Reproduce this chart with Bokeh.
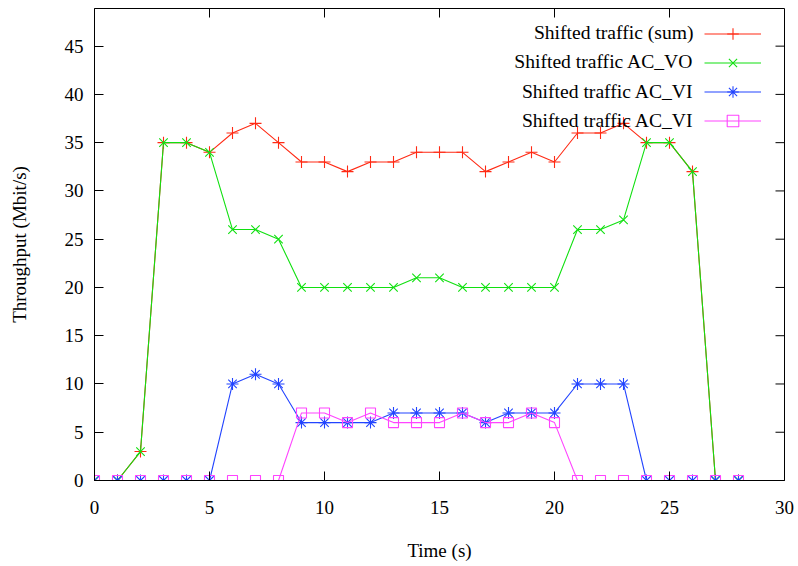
import math
from bokeh.plotting import figure
from bokeh.models import Range1d, FixedTicker, Legend, LegendItem, Label
from bokeh.embed import file_html
from bokeh.resources import INLINE

# ---- data ----
time_s = list(range(29))
sum_traffic = [0, 0, 3, 35, 35, 34, 36, 37, 35, 33, 33, 32, 33, 33, 34, 34, 34, 32, 33, 34, 33, 36, 36, 37, 35, 35, 32, 0, 0]
ac_vo = [0, 0, 3, 35, 35, 34, 26, 26, 25, 20, 20, 20, 20, 20, 21, 21, 20, 20, 20, 20, 20, 26, 26, 27, 35, 35, 32, 0, 0]
ac_vi = [0, 0, 0, 0, 0, 0, 10, 11, 10, 6, 6, 6, 6, 7, 7, 7, 7, 6, 7, 7, 7, 10, 10, 10, 0, 0, 0, 0, 0]
ac_vi_2 = [0, 0, 0, 0, 0, 0, 0, 0, 0, 7, 7, 6, 7, 6, 6, 6, 7, 6, 6, 7, 6, 0, 0, 0, 0, 0, 0, 0, 0]

series_labels = ["Shifted traffic (sum)", "Shifted traffic AC_VO", "Shifted traffic AC_VI", "Shifted traffic AC_VI"]
series_values = [sum_traffic, ac_vo, ac_vi, ac_vi_2]
series_colors = ["#ff2a14", "#10e010", "#2244ff", "#ff44ff"]
series_markers = ["cross", "x", "asterisk", "square"]
series_sizes = [12, 12, 12, 10]

x_ticks = [0, 5, 10, 15, 20, 25, 30]
y_ticks = [0, 5, 10, 15, 20, 25, 30, 35, 40, 45]
x_min, x_max = 0, 30
y_min, y_max = 0, 48.9

FONT = "Liberation Serif"
FS = "19px"
LEG_FS = "19.6px"

p = figure(width=798, height=566, output_backend="svg", toolbar_location=None,
           x_range=Range1d(x_min, x_max), y_range=Range1d(y_min, y_max),
           min_border_left=94, min_border_right=14, min_border_top=8, min_border_bottom=86)
p.grid.visible = False
p.outline_line_color = "black"
p.outline_line_width = 1
p.background_fill_color = "white"
p.border_fill_color = "white"

for ax, ticks in ((p.xaxis[0], x_ticks), (p.yaxis[0], y_ticks)):
    ax.ticker = FixedTicker(ticks=ticks)
    ax.major_tick_in = 9
    ax.major_tick_out = 0
    ax.minor_tick_line_color = None
    ax.major_tick_line_color = "black"
    ax.axis_line_color = "black"
    ax.major_label_text_font = FONT
    ax.major_label_text_font_size = FS
    ax.major_label_text_color = "black"
    ax.axis_label_text_font = FONT
    ax.axis_label_text_font_size = FS
    ax.axis_label_text_font_style = "normal"
    ax.axis_label_text_color = "black"

p.xaxis[0].axis_label = "Time (s)"
p.yaxis[0].axis_label = "Throughput (Mbit/s)"
p.xaxis[0].major_label_standoff = 20
p.xaxis[0].axis_label_standoff = 23
p.yaxis[0].major_label_standoff = 11
p.yaxis[0].axis_label_standoff = 32

# mirrored inward ticks on the top and right borders (gnuplot style)
top_ticks = x_ticks[1:-1]
right_ticks = y_ticks[1:]
p.ray(x=top_ticks, y=[y_max] * len(top_ticks), length=9, length_units="screen",
      angle=-math.pi / 2, line_color="black", line_width=1)
p.ray(x=[x_max] * len(right_ticks), y=right_ticks, length=9, length_units="screen",
      angle=math.pi, line_color="black", line_width=1)

items = []
for lab, vals, col, mk, sz in zip(series_labels, series_values, series_colors, series_markers, series_sizes):
    lr = p.line(time_s, vals, line_color=col, line_width=1.1)
    sr = p.scatter(time_s, vals, marker=mk, size=sz, line_color=col, fill_color=None, line_width=1.1)
    items.append(LegendItem(label="", renderers=[lr, sr]))

# legend: samples on the right, texts right-aligned to their left (gnuplot style)
row_h = 29.4
first_row = 448          # screen px above frame bottom, centre of first row
leg_x = 610              # screen px from frame left
legend = Legend(items=items, location=(leg_x, first_row + row_h / 2 - row_h * len(items)),
                glyph_width=57, glyph_height=int(row_h), label_height=int(row_h),
                label_width=0, label_standoff=0, spacing=0, padding=0, margin=0,
                border_line_color=None, background_fill_alpha=0,
                label_text_font_size="1px")
p.add_layout(legend, "center")

for i, lab in enumerate(series_labels):
    p.add_layout(Label(x=leg_x - 11, y=first_row - i * row_h, x_units="screen", y_units="screen",
                       text=lab, text_align="right", text_baseline="middle",
                       text_font=FONT, text_font_size=LEG_FS, text_color="black"))

open("out.html", "w").write(file_html(p, INLINE))
